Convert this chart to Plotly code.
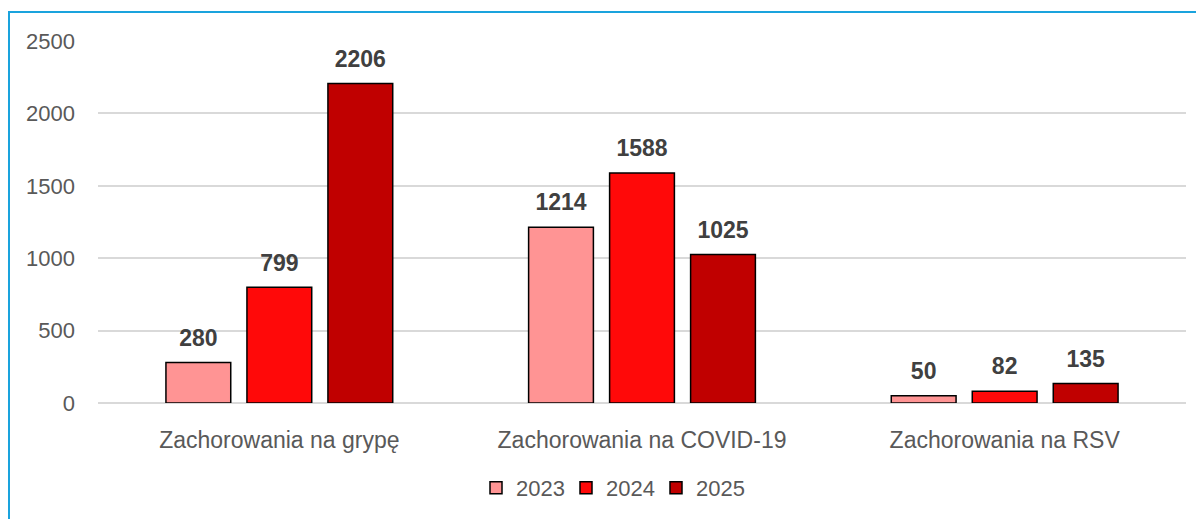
import plotly.graph_objects as go

categories = ["Zachorowania na grypę", "Zachorowania na COVID-19", "Zachorowania na RSV"]
years = ["2023", "2024", "2025"]
values_2023 = [280, 1214, 50]
values_2024 = [799, 1588, 82]
values_2025 = [2206, 1025, 135]
colors = ["#FF9494", "#FF0909", "#C00000"]

series = [values_2023, values_2024, values_2025]
FONT = "Liberation Sans, Arial, sans-serif"

fig = go.Figure()
for i, (name, vals, col) in enumerate(zip(years, series, colors)):
    fig.add_trace(go.Bar(
        x=categories, y=vals, name=name, offsetgroup=str(i),
        marker=dict(color=col, line=dict(color="#000000", width=1.5)),
    ))
for i, (name, vals) in enumerate(zip(years, series)):
    fig.add_trace(go.Scatter(
        x=categories, y=vals, name=name, offsetgroup=str(i), showlegend=False,
        mode="markers+text", marker=dict(size=16, opacity=0),
        text=[str(v) for v in vals], textposition="top center",
        textfont=dict(family=FONT, size=23, color="#404040", weight="bold"),
        hoverinfo="skip", cliponaxis=False,
    ))

# page is offset by the 8px body margin
OFF = 8
W, H = 1204, 519
L = 98 - OFF
T = 41 - OFF
pw = 1186 - 98
ph = 403 - 41
R = W - L - pw
B = H - T - ph

fig.update_layout(
    width=W, height=H,
    margin=dict(l=L, r=R, t=T, b=B),
    paper_bgcolor="white", plot_bgcolor="white",
    barmode="group", bargap=0.33, bargroupgap=0.2,
    scattermode="group", scattergap=0.33,
    font=dict(family=FONT, size=22, color="#595959"),
    legend=dict(orientation="h", x=(476 - 98) / pw, xanchor="left", y=(403 - 488) / ph, yanchor="middle",
                font=dict(size=22, color="#595959"), itemwidth=30, traceorder="normal",
                entrywidth=45),
    xaxis=dict(showgrid=False, showline=False, ticks="", tickfont=dict(size=23, color="#595959"),
               ticklabelstandoff=21),
    yaxis=dict(range=[0, 2500], dtick=500, showgrid=True, gridcolor="#D9D9D9", gridwidth=1.5,
               zeroline=True, zerolinecolor="#D9D9D9", zerolinewidth=1.5, showline=False,
               tickfont=dict(size=22, color="#595959"), ticklabelstandoff=22),
    showlegend=True,
    shapes=[dict(type="rect", xref="paper", yref="paper",
                 x0=(1 - L) / pw, x1=1.2, y0=-0.6, y1=1 + (41 - 12) / ph,
                 line=dict(color="#1AA3DD", width=2), fillcolor="rgba(0,0,0,0)", layer="above")],
)

fig.write_html("out.html")
